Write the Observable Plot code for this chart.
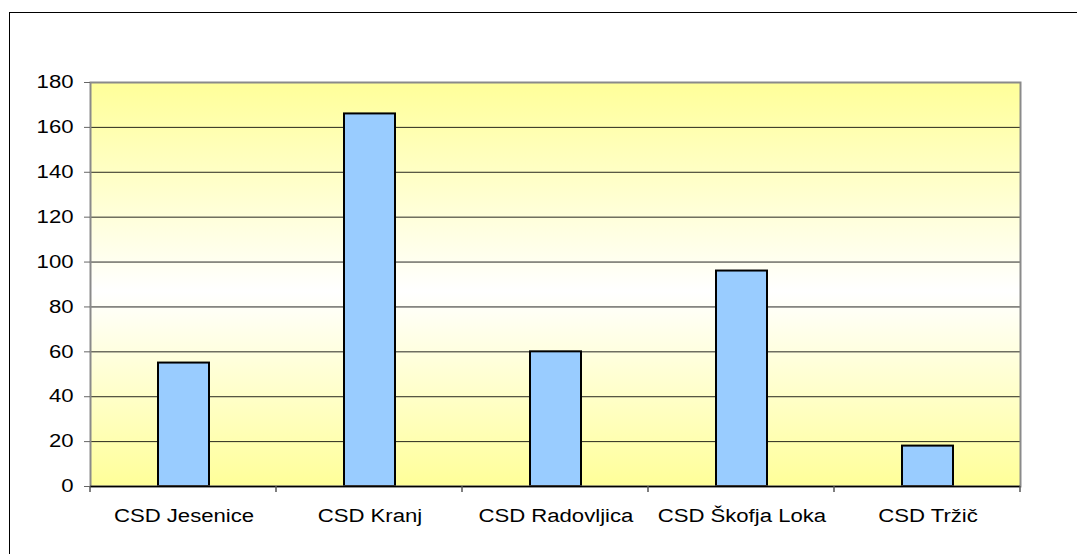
<!DOCTYPE html>
<html>
<head>
<meta charset="utf-8">
<script src="https://cdn.jsdelivr.net/npm/d3@7"></script>
<script src="https://cdn.jsdelivr.net/npm/@observablehq/plot@0.6"></script>
<style>
  html, body { margin: 0; padding: 0; background: #fff; overflow: hidden; }
  #wrap { position: relative; width: 1077px; height: 554px; }
  #frame { position: absolute; left: 9px; top: 12px; width: 2000px; height: 2000px;
           border-left: 1.5px solid #000; border-top: 1.5px solid #000; pointer-events: none; }
  #chart { position: absolute; left: 0; top: 0; }
</style>
</head>
<body>
<div id="wrap"><div id="chart"></div><div id="frame"></div></div>
<script>
const categories = ["CSD Jesenice", "CSD Kranj", "CSD Radovljica", "CSD Škofja Loka", "CSD Tržič"];
const values = [55, 166, 60, 96, 18];
const yTicks = [0, 20, 40, 60, 80, 100, 120, 140, 160, 180];

const data = categories.map((c, i) => ({category: c, value: values[i]}));

// Background gradient of the plotting area (yellow - white - yellow)
function background(index, scales, values, dim) {
  const ns = "http://www.w3.org/2000/svg";
  const g = document.createElementNS(ns, "g");
  const defs = document.createElementNS(ns, "defs");
  const lg = document.createElementNS(ns, "linearGradient");
  lg.setAttribute("id", "bgGrad");
  lg.setAttribute("x1", "0"); lg.setAttribute("y1", "0");
  lg.setAttribute("x2", "0"); lg.setAttribute("y2", "1");
  [["0%", "#FFFF99"], ["52%", "#FFFFFF"], ["100%", "#FFFF99"]].forEach(([o, c]) => {
    const s = document.createElementNS(ns, "stop");
    s.setAttribute("offset", o); s.setAttribute("stop-color", c);
    lg.appendChild(s);
  });
  defs.appendChild(lg);
  g.appendChild(defs);
  const r = document.createElementNS(ns, "rect");
  r.setAttribute("x", dim.marginLeft);
  r.setAttribute("y", dim.marginTop);
  r.setAttribute("width", dim.width - dim.marginLeft - dim.marginRight);
  r.setAttribute("height", dim.height - dim.marginTop - dim.marginBottom);
  r.setAttribute("fill", "url(#bgGrad)");
  g.appendChild(r);
  return g;
}

// Category boundary ticks below the x axis
function boundaryTicks(index, scales, values, dim) {
  const ns = "http://www.w3.org/2000/svg";
  const g = document.createElementNS(ns, "g");
  const x0 = dim.marginLeft, x1 = dim.width - dim.marginRight;
  const yb = dim.height - dim.marginBottom;
  const n = categories.length;
  const step = (x1 - x0) / n;
  for (let i = 0; i <= n; i++) {
    const l = document.createElementNS(ns, "line");
    const x = x0 + i * step;
    l.setAttribute("x1", x); l.setAttribute("x2", x);
    l.setAttribute("y1", yb); l.setAttribute("y2", yb + 6);
    l.setAttribute("stroke", "#555");
    l.setAttribute("stroke-width", 1.5);
    g.appendChild(l);
  }
  return g;
}

const chart = Plot.plot({
  width: 1077,
  height: 554,
  marginLeft: 90,
  marginRight: 57,
  marginTop: 82,
  marginBottom: 68,
  style: {fontFamily: "'Liberation Sans', Arial, sans-serif", fontSize: "18px", background: "transparent", color: "#000"},
  x: {domain: categories, paddingInner: 0.726, paddingOuter: 0.363, label: null},
  y: {domain: [0, 180], label: null},
  marks: [
    background,
    Plot.gridY(yTicks, {stroke: "#000", strokeOpacity: 0.85, strokeWidth: 1}),
    Plot.barY(data, {x: "category", y: "value", fill: "#99CCFF", stroke: "#000", strokeWidth: 2}),
    Plot.frame({stroke: "#8a8a8a", strokeWidth: 2}),
    Plot.ruleY([0], {stroke: "#000", strokeWidth: 1.5}),
    boundaryTicks,
    Plot.axisY({ticks: yTicks, tickSize: 6, tickPadding: 11, stroke: "#666", fontSize: 18, label: null}),
    Plot.axisX({tickSize: 0, tickPadding: 23, fontSize: 18, label: null})
  ]
});

document.getElementById("chart").appendChild(chart);

// Widen glyphs horizontally around their anchor (the reference font is rendered stretched)
const SX = 1.23;
chart.querySelectorAll("text").forEach(t => {
  let b;
  try { b = t.getBBox(); } catch (e) { return; }
  if (!b || !isFinite(b.x)) return;
  const anchor = getComputedStyle(t).textAnchor;
  const ax = anchor === "end" ? b.x + b.width : anchor === "middle" ? b.x + b.width / 2 : b.x;
  const tr = t.getAttribute("transform") || "";
  t.setAttribute("transform", `${tr} translate(${ax},0) scale(${SX},1) translate(${-ax},0)`.trim());
});
</script>
</body>
</html>
